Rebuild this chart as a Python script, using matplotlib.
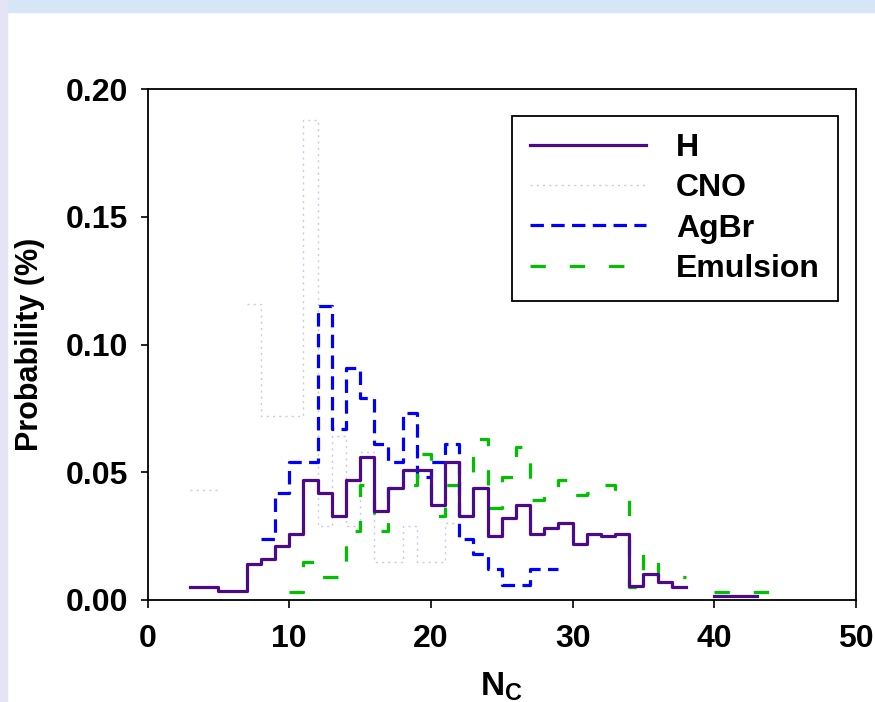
import numpy as np
import matplotlib.pyplot as plt
from matplotlib.patches import Rectangle

plt.rcParams['font.family'] = ['Liberation Sans', 'DejaVu Sans']
plt.rcParams['font.weight'] = 'bold'
plt.rcParams['mathtext.fontset'] = 'custom'
plt.rcParams['mathtext.bf'] = 'Liberation Sans:bold'
plt.rcParams['mathtext.rm'] = 'Liberation Sans:bold'

nan = np.nan

# left edges of the unit-width Nc bins, and the probabilities per bin
h_bins = list(range(3, 43))
h_prob = [0.005, 0.005, 0.0035, 0.0035, 0.014, 0.016, 0.021, 0.026, 0.047, 0.042,
          0.033, 0.047, 0.056, 0.035, 0.044, 0.051, 0.051, 0.037, 0.054, 0.033,
          0.044, 0.025, 0.032, 0.037, 0.026, 0.028, 0.030, 0.022, 0.026, 0.025,
          0.026, 0.0055, 0.010, 0.007, 0.005, nan, nan, 0.0017, 0.0017, 0.0017]

cno_bins = list(range(3, 22))
cno_prob = [0.043, 0.043, nan, nan, 0.116, 0.072, 0.072, 0.072, 0.188, 0.029,
            0.064, 0.029, 0.058, 0.015, 0.015, 0.029, 0.015, 0.015, 0.030]

agbr_bins = list(range(8, 29))
agbr_prob = [0.024, 0.042, 0.054, 0.054, 0.115, 0.067, 0.091, 0.079, 0.061, 0.054,
             0.073, 0.048, 0.054, 0.061, 0.024, 0.018, 0.012, 0.006, 0.006, 0.012,
             0.012]

em_bins = list(range(10, 45))
em_prob = [0.003, 0.015, 0.009, 0.009, 0.027, 0.045, 0.027, 0.044, 0.045, 0.057,
           0.033, 0.045, 0.047, 0.063, 0.036, 0.048, 0.060, 0.039, 0.042, 0.047,
           0.041, 0.042, 0.045, 0.042, 0.005, 0.018, 0.009, 0.009, nan, nan,
           0.003, 0.003, 0.003, 0.003, 0.0056]


def stair(left, vals):
    # histogram outline: a flat piece for each bin, verticals join them
    xs, ys = [], []
    for l, v in zip(left, vals):
        xs += [l, l + 1]
        ys += [v, v]
    return xs, ys


fig = plt.figure(figsize=(8.75, 7.02), dpi=100)
# slide background bits at the top and left edge
fig.patches.append(Rectangle((0, 0.983), 1, 0.017, transform=fig.transFigure,
                             color='#d6e6f6', zorder=0))
fig.patches.append(Rectangle((0, 0), 0.008, 1, transform=fig.transFigure,
                             color='#e4e4f4', zorder=0))

ax = fig.add_axes([0.1686, 0.1453, 0.8097, 0.7279])

x, y = stair(h_bins, h_prob)
ax.plot(x, y, color='#4b0a8a', lw=2.3, label='H', zorder=4)
x, y = stair(cno_bins, cno_prob)
ax.plot(x, y, color='#c8c8ec', lw=1.0, dashes=(1.5, 3.0), label='CNO', zorder=2)
x, y = stair(agbr_bins, agbr_prob)
ax.plot(x, y, color='#0000ff', lw=2.3, dashes=(4.2, 2.3), label='AgBr', zorder=3)
x, y = stair(em_bins, em_prob)
ax.plot(x, y, color='#00c000', lw=2.3, dashes=(4.8, 7.5), label='Emulsion', zorder=3)

ax.set_xlim(0, 50)
ax.set_ylim(0, 0.20)
ax.set_xticks([0, 10, 20, 30, 40, 50])
ax.set_yticks([0.00, 0.05, 0.10, 0.15, 0.20])
ax.yaxis.set_major_formatter(plt.FormatStrFormatter('%.2f'))
ax.tick_params(direction='out', length=5, width=1.2, labelsize=23, pad=9)
ax.tick_params(axis='x', length=6, pad=11)
for s in ax.spines.values():
    s.set_linewidth(1.3)

ax.set_ylabel('Probability (%)', fontsize=22, fontweight='bold', labelpad=15)
ax.set_xlabel(r'$\mathbf{N_C}$', fontsize=24, labelpad=12)

leg = ax.legend(loc='upper left', bbox_to_anchor=(0.5145, 0.948), fontsize=23,
                handlelength=3.65, handletextpad=0.94, borderpad=0.55,
                labelspacing=0.32, borderaxespad=0, fancybox=False, framealpha=1)
leg.get_frame().set_edgecolor('black')
leg.get_frame().set_linewidth(1.3)

fig.savefig('out.png', dpi=100)
